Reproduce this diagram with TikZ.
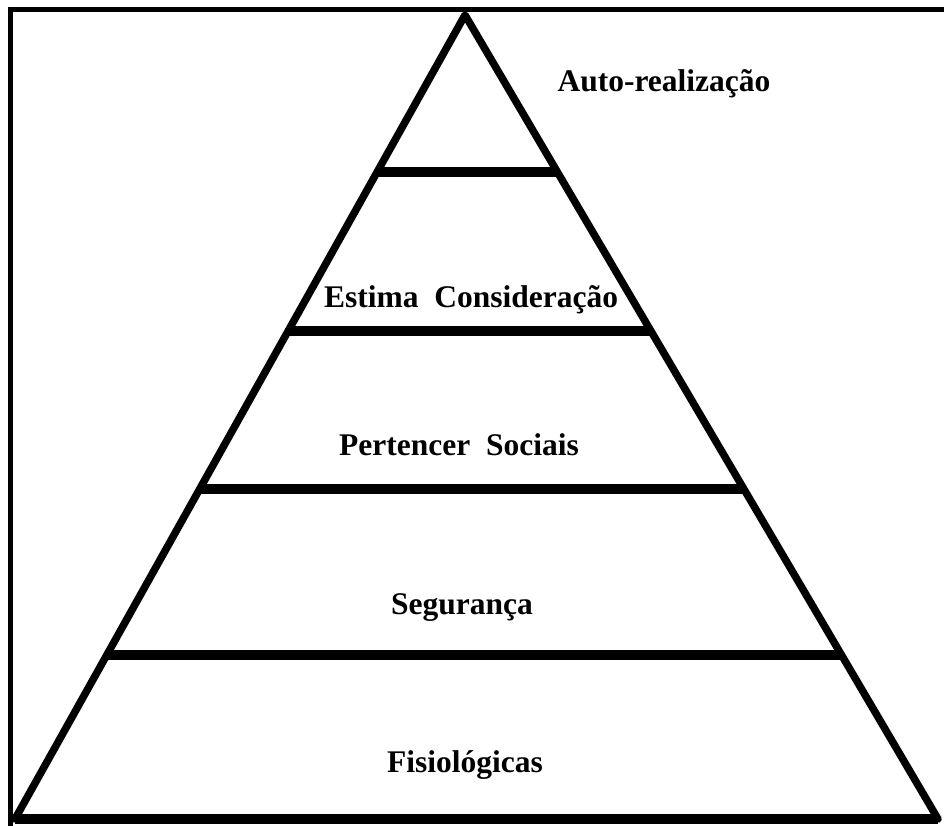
\documentclass[tikz,border=0pt]{standalone}
\usepackage{fontspec}
\setmainfont{Liberation Serif}
\usetikzlibrary{calc}
\tikzset{
  side/.style={line width=7.5pt, line cap=round, line join=round},
  bar/.style={line width=10.5pt},
  frame/.style={line width=5pt},
  lbl/.style={font=\fontsize{31.5}{36}\selectfont\bfseries, anchor=base, inner sep=0pt}
}
\begin{document}
\begin{tikzpicture}[x=1pt,y=-1pt]
\useasboundingbox (0,0) rectangle (944,826);
\coordinate (A) at (465,15);
\coordinate (L) at (15,819);
\coordinate (R) at (938,819);
% frame
\draw[frame] (944,10) -- (10,10) -- (10,826);
% triangle
\draw[side] (L) -- (A) -- (R);
\draw[line width=10.5pt] (L) -- (R);
% bars
\foreach \t/\n in {0.8047/a,0.6070/b,0.4104/c,0.2040/d}{
  \coordinate (bl\n) at ($(L)!\t!(A)$);
  \coordinate (br\n) at ($(R)!\t!(A)$);
  \draw[bar] (bl\n) -- (br\n);
}
% labels
\node[lbl] (t1) at (664,92) {Auto-realização};
\node[lbl] (t2) at (471,307) {Estima\ \ Consideração};
\node[lbl] (t3) at (459,455) {Pertencer\ \ Sociais};
\node[lbl] (t4) at (462,614) {Segurança};
\node[lbl] (t5) at (465,772) {Fisiológicas};
\end{tikzpicture}
\end{document}
